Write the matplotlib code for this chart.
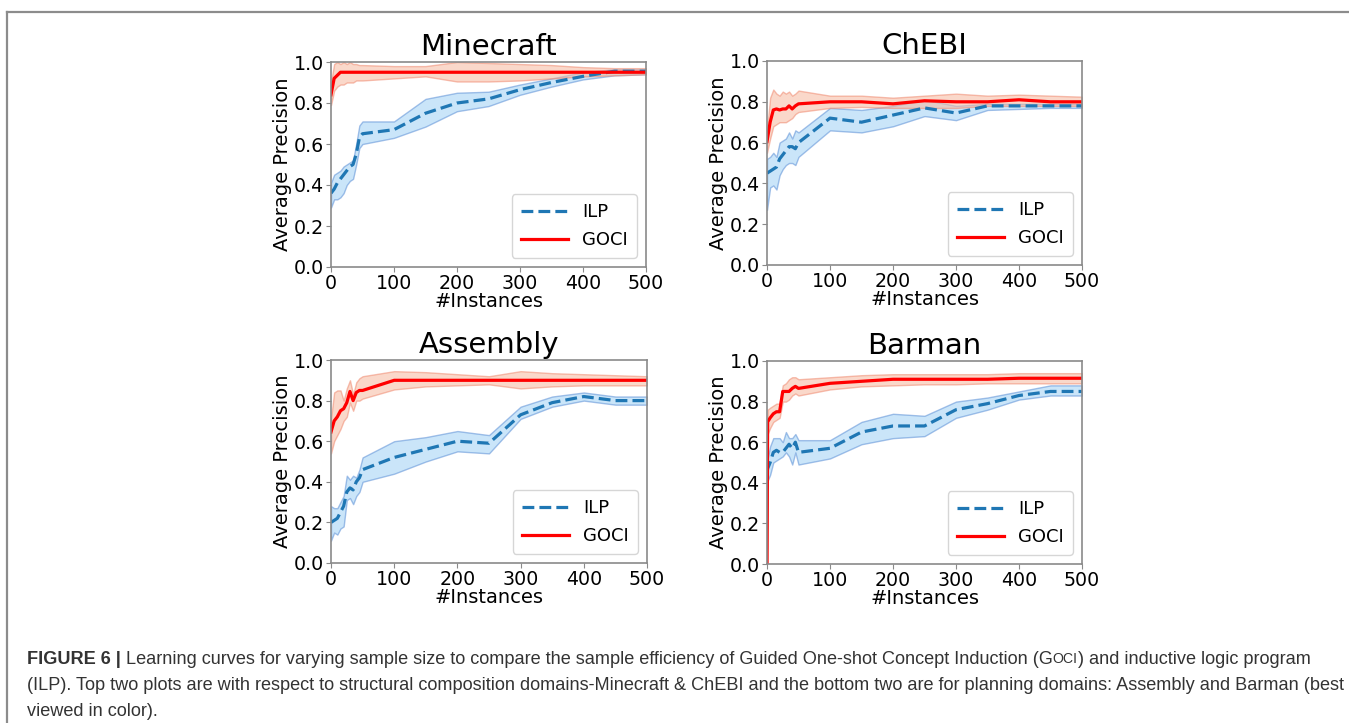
import numpy as np
import matplotlib
matplotlib.use('Agg')
from matplotlib import pyplot as plt
from matplotlib import font_manager
from matplotlib.lines import Line2D

# x positions (number of instances)
x = [0, 5, 10, 15, 20, 25, 30, 35, 40, 45, 50, 100, 150, 200, 250, 300, 350, 400, 450, 500]
x_barman = [0, 1, 5, 10, 15, 20, 25, 30, 35, 40, 45, 50, 100, 150, 200, 250, 300, 350, 400, 450, 500]

# Minecraft
mc_ilp = [0.36, 0.38, 0.41, 0.43, 0.45, 0.47, 0.49, 0.50, 0.55, 0.63, 0.65, 0.67, 0.75, 0.80, 0.82, 0.865, 0.90, 0.93, 0.955, 0.955]
mc_ilp_lo = [0.29, 0.33, 0.33, 0.34, 0.36, 0.40, 0.42, 0.43, 0.50, 0.58, 0.60, 0.63, 0.685, 0.76, 0.785, 0.84, 0.88, 0.915, 0.935, 0.94]
mc_ilp_hi = [0.41, 0.45, 0.46, 0.47, 0.49, 0.50, 0.51, 0.52, 0.60, 0.69, 0.71, 0.71, 0.82, 0.85, 0.855, 0.89, 0.92, 0.95, 0.965, 0.965]
mc_goci = [0.84, 0.92, 0.935, 0.95, 0.95, 0.95, 0.95, 0.95, 0.95, 0.95, 0.95, 0.95, 0.95, 0.95, 0.95, 0.95, 0.95, 0.95, 0.95, 0.95]
mc_goci_lo = [0.79, 0.86, 0.88, 0.89, 0.89, 0.90, 0.90, 0.90, 0.91, 0.91, 0.91, 0.92, 0.93, 0.905, 0.905, 0.91, 0.92, 0.93, 0.935, 0.94]
mc_goci_hi = [0.90, 0.99, 1.00, 0.99, 1.00, 0.99, 1.00, 0.99, 0.99, 0.985, 0.985, 0.98, 0.98, 1.00, 0.995, 0.99, 0.985, 0.975, 0.97, 0.97]

# ChEBI
ch_ilp = [0.45, 0.46, 0.47, 0.48, 0.52, 0.54, 0.56, 0.58, 0.58, 0.57, 0.60, 0.72, 0.70, 0.735, 0.77, 0.745, 0.78, 0.78, 0.78, 0.78]
ch_ilp_lo = [0.27, 0.38, 0.39, 0.37, 0.44, 0.47, 0.49, 0.50, 0.50, 0.49, 0.53, 0.66, 0.65, 0.68, 0.73, 0.71, 0.76, 0.765, 0.77, 0.77]
ch_ilp_hi = [0.52, 0.53, 0.55, 0.53, 0.60, 0.61, 0.62, 0.65, 0.62, 0.66, 0.65, 0.77, 0.76, 0.78, 0.81, 0.78, 0.79, 0.79, 0.79, 0.79]
ch_goci = [0.605, 0.70, 0.76, 0.765, 0.76, 0.765, 0.765, 0.78, 0.765, 0.78, 0.79, 0.80, 0.80, 0.79, 0.805, 0.80, 0.80, 0.81, 0.80, 0.80]
ch_goci_lo = [0.55, 0.62, 0.68, 0.69, 0.70, 0.70, 0.70, 0.71, 0.72, 0.74, 0.75, 0.77, 0.775, 0.77, 0.77, 0.77, 0.78, 0.78, 0.78, 0.78]
ch_goci_hi = [0.66, 0.82, 0.86, 0.84, 0.83, 0.85, 0.84, 0.85, 0.83, 0.84, 0.855, 0.83, 0.83, 0.82, 0.83, 0.84, 0.83, 0.835, 0.83, 0.825]

# Assembly
as_ilp = [0.20, 0.21, 0.22, 0.25, 0.28, 0.35, 0.37, 0.36, 0.40, 0.42, 0.46, 0.52, 0.56, 0.60, 0.59, 0.73, 0.79, 0.82, 0.80, 0.80]
as_ilp_lo = [0.11, 0.15, 0.14, 0.17, 0.18, 0.31, 0.32, 0.29, 0.33, 0.35, 0.40, 0.44, 0.50, 0.55, 0.54, 0.71, 0.77, 0.80, 0.78, 0.78]
as_ilp_hi = [0.28, 0.27, 0.27, 0.30, 0.33, 0.43, 0.41, 0.43, 0.42, 0.46, 0.52, 0.60, 0.62, 0.65, 0.63, 0.77, 0.82, 0.84, 0.82, 0.82]
as_goci = [0.645, 0.70, 0.72, 0.75, 0.76, 0.79, 0.845, 0.80, 0.84, 0.85, 0.85, 0.90, 0.90, 0.90, 0.90, 0.90, 0.90, 0.90, 0.90, 0.90]
as_goci_lo = [0.54, 0.60, 0.63, 0.66, 0.70, 0.72, 0.79, 0.75, 0.80, 0.80, 0.81, 0.855, 0.87, 0.875, 0.88, 0.86, 0.87, 0.875, 0.875, 0.875]
as_goci_hi = [0.71, 0.84, 0.85, 0.85, 0.80, 0.86, 0.90, 0.83, 0.89, 0.91, 0.92, 0.945, 0.94, 0.93, 0.92, 0.945, 0.935, 0.93, 0.925, 0.92]

# Barman
ba_ilp = [0.45, 0.47, 0.50, 0.55, 0.56, 0.55, 0.55, 0.57, 0.59, 0.57, 0.60, 0.55, 0.57, 0.65, 0.68, 0.68, 0.76, 0.79, 0.83, 0.85, 0.85]
ba_ilp_lo = [0.40, 0.41, 0.44, 0.50, 0.51, 0.52, 0.53, 0.55, 0.53, 0.49, 0.55, 0.49, 0.52, 0.59, 0.62, 0.63, 0.72, 0.76, 0.81, 0.83, 0.83]
ba_ilp_hi = [0.50, 0.52, 0.58, 0.62, 0.62, 0.62, 0.60, 0.65, 0.62, 0.62, 0.64, 0.61, 0.61, 0.70, 0.74, 0.73, 0.80, 0.82, 0.85, 0.88, 0.88]
ba_goci = [0.0, 0.70, 0.72, 0.74, 0.75, 0.75, 0.85, 0.85, 0.85, 0.865, 0.875, 0.865, 0.89, 0.90, 0.91, 0.91, 0.91, 0.91, 0.915, 0.915, 0.915]
ba_goci_lo = [0.0, 0.64, 0.67, 0.70, 0.71, 0.72, 0.80, 0.80, 0.81, 0.83, 0.84, 0.83, 0.86, 0.875, 0.88, 0.885, 0.885, 0.89, 0.89, 0.89, 0.89]
ba_goci_hi = [0.0, 0.76, 0.77, 0.78, 0.79, 0.79, 0.88, 0.89, 0.91, 0.92, 0.92, 0.91, 0.92, 0.93, 0.935, 0.935, 0.935, 0.935, 0.94, 0.94, 0.94]

titles = ['Minecraft', 'ChEBI', 'Assembly', 'Barman']
x_ticks = [0, 100, 200, 300, 400, 500]
y_ticks = [0.0, 0.2, 0.4, 0.6, 0.8, 1.0]

panels = [
    (x, mc_ilp, mc_ilp_lo, mc_ilp_hi, mc_goci, mc_goci_lo, mc_goci_hi),
    (x, ch_ilp, ch_ilp_lo, ch_ilp_hi, ch_goci, ch_goci_lo, ch_goci_hi),
    (x, as_ilp, as_ilp_lo, as_ilp_hi, as_goci, as_goci_lo, as_goci_hi),
    (x_barman, ba_ilp, ba_ilp_lo, ba_ilp_hi, ba_goci, ba_goci_lo, ba_goci_hi),
]

W, H = 1349, 723
fig = plt.figure(figsize=(W / 100, H / 100), dpi=100)

# axes boxes in pixels: left, right, top, bottom
boxes = [(331, 646, 62, 267), (767, 1082, 61, 265), (331, 647, 360, 563), (767, 1082, 361, 564)]

spine_col = '#8a8a8a'
for k, (l, r, t, b) in enumerate(boxes):
    ax = fig.add_axes([l / W, 1 - b / H, (r - l) / W, (b - t) / H])
    xs, ilp, ilp_lo, ilp_hi, goci, goci_lo, goci_hi = panels[k]
    ax.fill_between(xs, ilp_lo, ilp_hi, facecolor='#9fd0f5', edgecolor='#5b8fd6', alpha=0.55, linewidth=1)
    ax.fill_between(xs, goci_lo, goci_hi, facecolor='#f7b8a0', edgecolor='#f08a70', alpha=0.55, linewidth=1)
    ax.plot(xs, ilp, '--', color='#1f77b4', linewidth=2.3, label='ILP')
    ax.plot(xs, goci, '-', color='red', linewidth=2.3, label='GOCI')
    ax.set_xlim(0, 500)
    ax.set_ylim(0, 1.0)
    ax.set_xticks(x_ticks)
    ax.set_yticks(y_ticks)
    ax.set_yticklabels(['%.1f' % v for v in y_ticks])
    ax.tick_params(labelsize=13.7, color=spine_col, length=3.5, pad=1.5)
    for s in ax.spines.values():
        s.set_color(spine_col)
        s.set_linewidth(1.2)
    ax.set_title(titles[k], fontsize=21, pad=5)
    ax.set_xlabel('#Instances', fontsize=14, labelpad=-1)
    ax.set_ylabel('Average Precision', fontsize=14, labelpad=1)
    handles = [Line2D([], [], ls='--', color='#1f77b4', lw=2.3),
               Line2D([], [], ls='-', color='red', lw=2.3)]
    ax.legend(handles, ['ILP', 'GOCI'], loc='lower right', fontsize=13,
              handlelength=2.6, borderpad=0.5, labelspacing=0.55, borderaxespad=0.5)

# frame lines of the figure box (top and left only)
fig.add_artist(Line2D([7 / W, 1.0], [1 - 12 / H, 1 - 12 / H], color='#8c8c8c', lw=1.6))
fig.add_artist(Line2D([7 / W, 7 / W], [0, 1 - 12 / H], color='#8c8c8c', lw=1.6))

# caption font: narrow sans if available
cap_family = 'Liberation Sans'
try:
    font_manager.findfont('Liberation Sans Narrow', fallback_to_default=False)
    cap_family = 'Liberation Sans Narrow'
except Exception:
    pass

cap_size = 13.1
cap_col = '#333333'
renderer = fig.canvas.get_renderer()


def put_pieces(pieces, x0, y0):
    xp = x0
    for txt, kw in pieces:
        t = fig.text(xp / W, 1 - y0 / H, txt, color=cap_col, family=cap_family,
                     va='center', ha='left', **kw)
        bb = t.get_window_extent(renderer=renderer)
        xp += bb.width


put_pieces([('FIGURE 6 |', dict(fontsize=cap_size, weight='bold')),
            (' Learning curves for varying sample size to compare the sample efficiency of Guided One-shot Concept Induction (G',
             dict(fontsize=cap_size)),
            ('OCI', dict(fontsize=cap_size * 0.78)),
            (') and inductive logic program', dict(fontsize=cap_size))], 27, 659)
put_pieces([('(ILP). Top two plots are with respect to structural composition domains-Minecraft & ChEBI and the bottom two are for planning domains: Assembly and Barman (best',
             dict(fontsize=cap_size))], 27, 685)
put_pieces([('viewed in color).', dict(fontsize=cap_size))], 27, 711)

fig.savefig('out.png', dpi=100)
